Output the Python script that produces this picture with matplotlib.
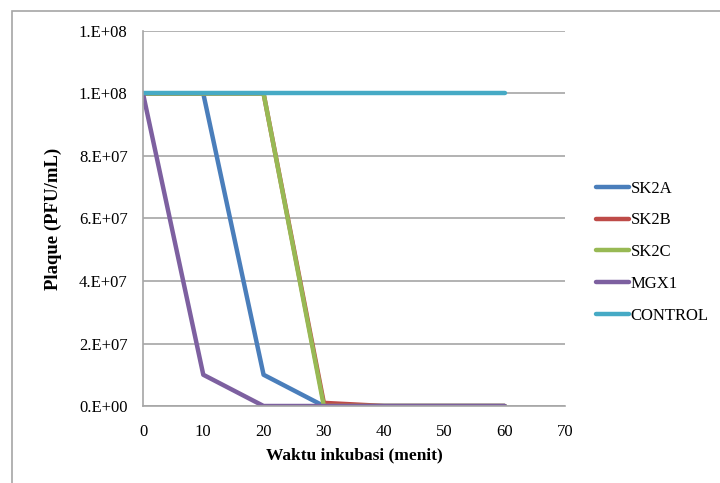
import matplotlib
matplotlib.use('Agg')
import matplotlib.pyplot as plt
from matplotlib.patches import Rectangle
from matplotlib.ticker import FuncFormatter

# data
waktu = [0, 10, 20, 30, 40, 50, 60]
sk2a = [1e8, 1e8, 1e7, 0, 0, 0, 0]
sk2b = [1e8, 1e8, 1e8, 1e6, 0, 0, 0]
sk2c = [1e8, 1e8, 1e8, 0, 0, 0, 0]
mgx1 = [1e8, 1e7, 0, 0, 0, 0, 0]
control = [1e8, 1e8, 1e8, 1e8, 1e8, 1e8, 1e8]

names = ['SK2A', 'SK2B', 'SK2C', 'MGX1', 'CONTROL']
colors = ['#4A7EBB', '#BE4B48', '#98B954', '#7D60A0', '#46AAC5']
series = [sk2a, sk2b, sk2c, mgx1, control]

plt.rcParams['font.family'] = ['Liberation Serif', 'DejaVu Serif']


def excel_fmt(v, pos):
    s = '{:.0E}'.format(v)
    return s[0] + '.' + s[1:]


def main():
    fig = plt.figure(figsize=(7.2, 4.83), dpi=100)
    # outer chart border
    fig.patches.append(Rectangle((12/720, -0.1), 1.2, 1 - 11/483 + 0.1,
                                 transform=fig.transFigure, fill=False,
                                 edgecolor='#A6A6A6', lw=1.2))
    ax = fig.add_axes([143/720, 1 - 406/483, (565 - 143)/720, (406 - 31)/483])

    for y, c, n in zip(series, colors, names):
        ax.plot(waktu, y, color=c, lw=3.2, label=n, solid_capstyle='round',
                solid_joinstyle='round')

    ax.set_xlim(0, 70)
    ax.set_ylim(0, 1.2e8)
    ax.set_xticks(range(0, 71, 10))
    ax.set_yticks([i * 2e7 for i in range(7)])
    ax.yaxis.set_major_formatter(FuncFormatter(excel_fmt))
    ax.grid(axis='y', color='#A6A6A6', lw=1.2)
    ax.set_axisbelow(True)
    for s in ['top', 'right']:
        ax.spines[s].set_visible(False)
    for s in ['left', 'bottom']:
        ax.spines[s].set_color('#A6A6A6')
        ax.spines[s].set_linewidth(1.2)
    ax.tick_params(length=0, labelsize=12, pad=13)
    ax.tick_params(axis='y', pad=11)

    ax.set_xlabel('Waktu inkubasi (menit)', fontsize=12.5, fontweight='bold',
                  labelpad=5)
    ax.set_ylabel('Plaque (PFU/mL)', fontsize=13.5, fontweight='bold',
                  labelpad=12)

    ax.legend(loc='center left', bbox_to_anchor=(1.037, 0.41), frameon=False,
              fontsize=12, handlelength=2.0, handletextpad=0.1,
              labelspacing=0.95)

    fig.savefig('out.png', dpi=100)


if __name__ == '__main__':
    main()
